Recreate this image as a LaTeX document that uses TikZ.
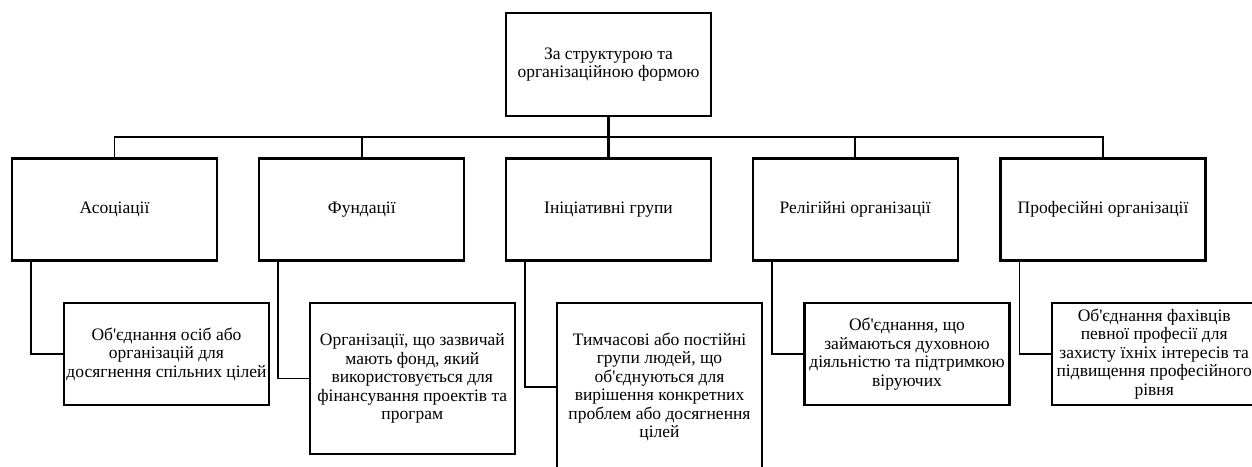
\documentclass[tikz,border=0pt]{standalone}
\usepackage{fontspec}
\setmainfont{Liberation Serif}[Ligatures=TeXOff]
\begin{document}
\begin{tikzpicture}[x=1pt,y=-1pt,
  box/.style={draw, line width=2.2pt, align=center, inner sep=0pt,
    minimum width=205pt, font=\fontsize{17.5}{18.5}\selectfont},
  conn/.style={line width=1.8pt},
  stem/.style={line width=3.2pt}]
\useasboundingbox (0,0) rectangle (1252,466);
\clip (0,0) rectangle (1252,466);
\node[box, minimum height=103pt] (top) at (608.5,64.5) {За структурою та\\організаційною формою};
\node[box, minimum height=102pt] (l1) at (114.5,209.5) {Асоціації};
\node[box, minimum height=102pt] (l2) at (361.8,209.5) {Фундації};
\node[box, minimum height=102pt] (l3) at (608.5,209.5) {Ініціативні групи};
\node[box, minimum height=102pt] (l4) at (855.2,209.5) {Релігійні організації};
\node[box, minimum height=102pt] (l5) at (1103,209.5) {Професійні організації};
\node[box, minimum height=102pt] (c1) at (166.5,354) {Об'єднання осіб або\\організацій для\\досягнення спільних цілей};
\node[box, minimum height=151pt] (c2) at (412.3,378.5) {Організації, що зазвичай\\мають фонд, який\\використовується для\\фінансування проектів та\\програм};
\node[box, minimum height=168pt] (c3) at (659.5,387) {Тимчасові або постійні\\групи людей, що\\об'єднуються для\\вирішення конкретних\\проблем або досягнення\\цілей};
\node[box, minimum height=102pt] (c4) at (907,354) {Об'єднання, що\\займаються духовною\\діяльністю та підтримкою\\віруючих};
\node[box, minimum height=102pt] (c5) at (1154.2,354) {Об'єднання фахівців\\певної професії для\\захисту їхніх інтересів та\\підвищення професійного\\рівня};
\coordinate (bus) at (608.5,137);
\foreach \n in {l1,l2,l4,l5}
  \draw[conn] (top.south) -- (top.south |- bus) -| (\n.north);
\draw[stem] (top.south) -- (l3.north);
\foreach \p/\c in {l1/c1,l2/c2,l3/c3,l4/c4,l5/c5}
  \draw[conn] ([xshift=20pt]\p.south west) |- (\c.west);
\end{tikzpicture}
\end{document}
